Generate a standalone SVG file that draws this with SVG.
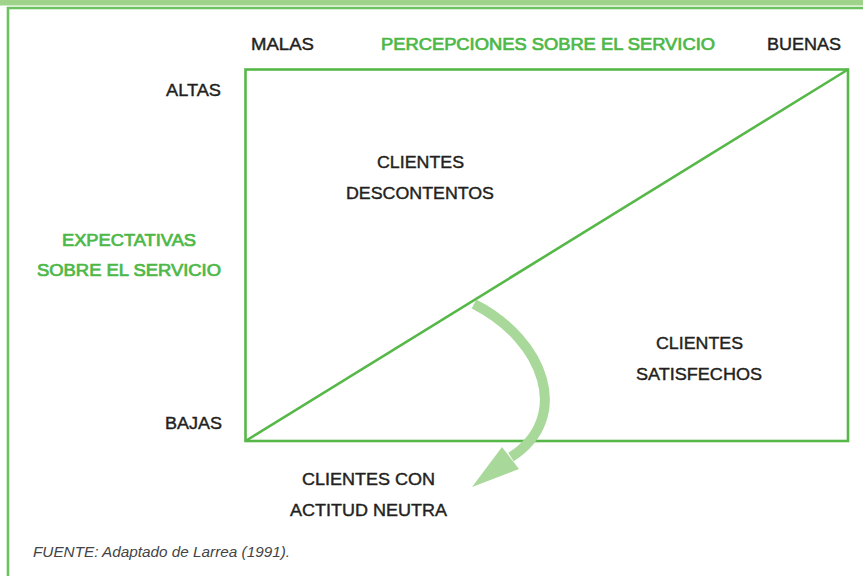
<svg xmlns="http://www.w3.org/2000/svg" width="863" height="576" viewBox="0 0 863 576">
<style>
.t{font-family:"Liberation Sans",Arial,sans-serif;font-size:16.5px;fill:#231f20;text-anchor:middle;stroke:#231f20;stroke-width:0.4px}
.g{fill:#4db848;stroke:#4db848;stroke-width:0.7px}
.f{font-family:"Liberation Sans",Arial,sans-serif;font-size:14px;font-style:italic;fill:#444;}
.ln{stroke:#56b848;stroke-width:2.6;fill:none}
</style>
<rect x="0" y="0" width="863" height="5.5" fill="#9fd38b"/>
<path d="M8,576 V8 H863" fill="none" stroke="#6cc25e" stroke-width="2.6"/>
<g id="connectors">
<rect class="ln" x="245.5" y="69.5" width="602.5" height="371.5"/>
<line class="ln" x1="245.5" y1="441" x2="848" y2="69.5"/>
<path d="M474,304 C545,340 572,418 511,457" fill="none" stroke="#a8d99a" stroke-width="10"/>
<polygon points="472,487 502,447 519,469" fill="#a8d99a"/>
</g>
<g id="labels-axes">
<text class="t" x="282.5" y="50" textLength="63" lengthAdjust="spacingAndGlyphs">MALAS</text>
<text class="t g" x="548" y="50" textLength="334" lengthAdjust="spacingAndGlyphs">PERCEPCIONES SOBRE EL SERVICIO</text>
<text class="t" x="804" y="50" textLength="74" lengthAdjust="spacingAndGlyphs">BUENAS</text>
<text class="t" x="193.5" y="96" textLength="55" lengthAdjust="spacingAndGlyphs">ALTAS</text>
<text class="t" x="193.5" y="429" textLength="57" lengthAdjust="spacingAndGlyphs">BAJAS</text>
<text class="t g" x="129" y="246" textLength="134" lengthAdjust="spacingAndGlyphs">EXPECTATIVAS</text>
<text class="t g" x="129" y="276" textLength="184" lengthAdjust="spacingAndGlyphs">SOBRE EL SERVICIO</text>
</g>
<g id="node-descontentos">
<text class="t" x="420.5" y="168" textLength="87" lengthAdjust="spacingAndGlyphs">CLIENTES</text>
<text class="t" x="420" y="199" textLength="148" lengthAdjust="spacingAndGlyphs">DESCONTENTOS</text>
</g>
<g id="node-satisfechos">
<text class="t" x="699.5" y="349" textLength="87" lengthAdjust="spacingAndGlyphs">CLIENTES</text>
<text class="t" x="699" y="380" textLength="126" lengthAdjust="spacingAndGlyphs">SATISFECHOS</text>
</g>
<g id="node-neutra">
<text class="t" x="368.5" y="485" textLength="133" lengthAdjust="spacingAndGlyphs">CLIENTES CON</text>
<text class="t" x="368.5" y="516" textLength="157" lengthAdjust="spacingAndGlyphs">ACTITUD NEUTRA</text>
</g>
<text class="f" x="33" y="557" textLength="257" lengthAdjust="spacingAndGlyphs">FUENTE: Adaptado de Larrea (1991).</text>
</svg>
